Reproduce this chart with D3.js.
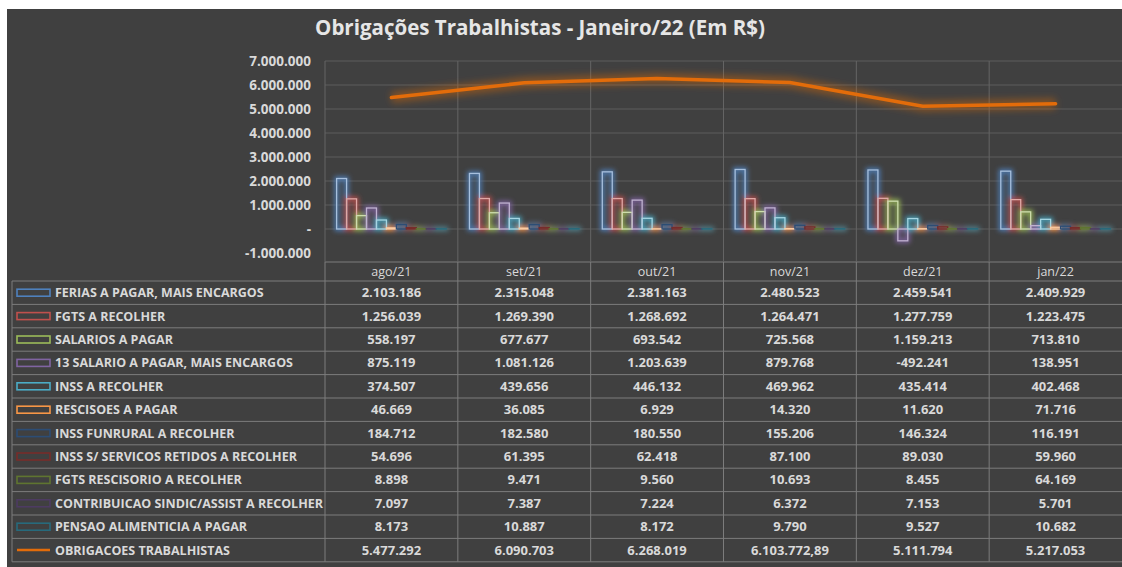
<!DOCTYPE html>
<html lang="pt">
<head>
<meta charset="UTF-8">
<title>Obrigações Trabalhistas - Janeiro/22</title>
<style>
  html, body { margin: 0; padding: 0; background: #ffffff; }
  svg { display: block; }
</style>
</head>
<body>
<svg id="chart"></svg>
<script src="https://d3js.org/d3.v7.min.js"></script>
<script>
// ---- data ----
const months = ['ago/21', 'set/21', 'out/21', 'nov/21', 'dez/21', 'jan/22'];

const barSeries = [
  'FERIAS A PAGAR, MAIS ENCARGOS',
  'FGTS A RECOLHER',
  'SALARIOS A PAGAR',
  '13 SALARIO A PAGAR, MAIS ENCARGOS',
  'INSS A RECOLHER',
  'RESCISOES A PAGAR',
  'INSS FUNRURAL A RECOLHER',
  'INSS S/ SERVICOS RETIDOS A RECOLHER',
  'FGTS RESCISORIO A RECOLHER',
  'CONTRIBUICAO SINDIC/ASSIST A RECOLHER',
  'PENSAO ALIMENTICIA A PAGAR'
];
const lineSeries = 'OBRIGACOES TRABALHISTAS';

const feriasAPagar    = [2103186, 2315048, 2381163, 2480523, 2459541, 2409929];
const fgtsARecolher   = [1256039, 1269390, 1268692, 1264471, 1277759, 1223475];
const salariosAPagar  = [558197, 677677, 693542, 725568, 1159213, 713810];
const decimoTerceiro  = [875119, 1081126, 1203639, 879768, -492241, 138951];
const inssARecolher   = [374507, 439656, 446132, 469962, 435414, 402468];
const rescisoes       = [46669, 36085, 6929, 14320, 11620, 71716];
const inssFunrural    = [184712, 182580, 180550, 155206, 146324, 116191];
const inssServicos    = [54696, 61395, 62418, 87100, 89030, 59960];
const fgtsRescisorio  = [8898, 9471, 9560, 10693, 8455, 64169];
const contribuicao    = [7097, 7387, 7224, 6372, 7153, 5701];
const pensao          = [8173, 10887, 8172, 9790, 9527, 10682];
const obrigacoes      = [5477292, 6090703, 6268019, 6103772.89, 5111794, 5217053];

const barValues = [feriasAPagar, fgtsARecolher, salariosAPagar, decimoTerceiro, inssARecolher,
  rescisoes, inssFunrural, inssServicos, fgtsRescisorio, contribuicao, pensao];

const yTicks = [-1000000, 0, 1000000, 2000000, 3000000, 4000000, 5000000, 6000000, 7000000];

const barColors = ['#4F81BD', '#C0504D', '#9BBB59', '#8064A2', '#4BACC6', '#F79646',
  '#2C4D75', '#772C2A', '#5F7530', '#4D3B62', '#276A7C'];
const lineColor = '#E36C0A';

// ---- layout ----
const width = 1122, height = 567;
const plot = { left: 325, right: 1122, top: 61, bottom: 253 };
const table = { left: 12, headTop: 262, headBottom: 281, rowH: 23.4 };
const bg = '#404040';
const textColor = '#d9d9d9';
const font = "'Open Sans', 'Noto Sans', sans-serif";

const br = d3.formatLocale({ decimal: ',', thousands: '.', grouping: [3], currency: ['R$', ''], minus: '-' });
const fmtInt = br.format(',.0f');
const fmtDec = br.format(',.2f');
const fmtVal = v => Number.isInteger(v) ? fmtInt(v) : fmtDec(v);
const fmtTick = v => v === 0 ? '-' : fmtInt(v);

const svg = d3.select('#chart').attr('width', width).attr('height', height);

// glow filters
const defs = svg.append('defs');
const glow = defs.append('filter').attr('id', 'glow')
  .attr('x', '-50%').attr('y', '-50%').attr('width', '200%').attr('height', '200%');
glow.append('feGaussianBlur').attr('stdDeviation', 2.6);
const glowLine = defs.append('filter').attr('id', 'glowLine')
  .attr('x', '-10%').attr('y', '-50%').attr('width', '120%').attr('height', '200%');
glowLine.append('feGaussianBlur').attr('stdDeviation', 3.5);

svg.append('rect').attr('x', 7).attr('y', 9).attr('width', width - 7).attr('height', height - 9).attr('fill', bg);

// title
svg.append('text')
  .attr('x', 540).attr('y', 35)
  .attr('text-anchor', 'middle')
  .attr('font-family', font).attr('font-weight', 700).attr('font-size', 20.5)
  .attr('fill', '#e6e6e6')
  .text('Obrigações Trabalhistas - Janeiro/22 (Em R$)');

// scales
const x0 = d3.scaleBand().domain(months).range([plot.left, plot.right])
  .paddingInner(0.175).paddingOuter(0.0875);
const x1 = d3.scaleBand().domain(d3.range(barSeries.length)).range([0, x0.bandwidth()]);
const y = d3.scaleLinear().domain([-1000000, 7000000]).range([plot.bottom, plot.top]);
const step = x0.step();
const colLeft = m => x0(m) - x0.paddingOuter() * step;

// horizontal gridlines
svg.append('g')
  .selectAll('line').data(yTicks.filter(t => t >= 0)).join('line')
  .attr('x1', plot.left).attr('x2', plot.right)
  .attr('y1', d => y(d)).attr('y2', d => y(d))
  .attr('stroke', '#5c5c5c').attr('stroke-width', 1);

// y axis labels
const yAxis = d3.axisLeft(y).tickValues(yTicks).tickFormat(fmtTick).tickSize(0).tickPadding(0);
const yg = svg.append('g').attr('transform', `translate(${plot.left - 14},0)`).call(yAxis);
yg.select('.domain').remove();
yg.selectAll('text')
  .attr('font-family', font).attr('font-weight', 700).attr('font-size', 13.5)
  .attr('fill', textColor);

// table lines
const rowsTop = table.headBottom;
const nRows = barSeries.length + 1;
const tableBottom = rowsTop + nRows * table.rowH;
const lines = svg.append('g').attr('stroke', '#7c7c7c').attr('stroke-width', 1);
lines.append('line').attr('x1', plot.left).attr('x2', plot.right)
  .attr('y1', table.headTop).attr('y2', table.headTop);
d3.range(nRows + 1).forEach(i => {
  const yy = rowsTop + i * table.rowH;
  lines.append('line').attr('x1', table.left).attr('x2', plot.right).attr('y1', yy).attr('y2', yy);
});
lines.append('line').attr('x1', table.left).attr('x2', table.left).attr('y1', rowsTop).attr('y2', tableBottom);
// category separators through plot and table
svg.append('g').selectAll('line').data(months).join('line')
  .attr('x1', d => colLeft(d)).attr('x2', d => colLeft(d))
  .attr('y1', plot.top).attr('y2', table.headTop)
  .attr('stroke', '#646464');
lines.selectAll('.vsep').data(months).join('line').attr('class', 'vsep')
  .attr('x1', d => colLeft(d)).attr('x2', d => colLeft(d))
  .attr('y1', table.headTop).attr('y2', tableBottom);

// bars
const light = (c, t) => d3.interpolateRgb(c, '#ffffff')(t);
const barG = svg.append('g');
const barData = [];
barValues.forEach((vals, s) => vals.forEach((v, i) => barData.push({ s, m: months[i], v })));
const rectAttrs = sel => sel
  .attr('x', d => x0(d.m) + x1(d.s))
  .attr('width', x1.bandwidth())
  .attr('y', d => y(Math.max(0, d.v)))
  .attr('height', d => Math.abs(y(d.v) - y(0)));
barG.append('g').attr('filter', 'url(#glow)')
  .selectAll('rect').data(barData).join('rect').call(rectAttrs)
  .attr('fill', 'none').attr('stroke', d => d.s < 6 ? barColors[d.s] : light(barColors[d.s], 0.2))
  .attr('stroke-width', 4);
barG.append('g')
  .selectAll('rect').data(barData).join('rect').call(rectAttrs)
  .attr('fill', d => barColors[d.s]).attr('fill-opacity', 0.06)
  .attr('stroke', d => d.s < 6 ? light(barColors[d.s], 0.5) : barColors[d.s]).attr('stroke-width', 1.3);

// total line
const lineGen = d3.line().x((d, i) => x0(months[i]) + x0.bandwidth() / 2).y(d => y(d));
svg.append('path').datum(obrigacoes).attr('d', lineGen)
  .attr('fill', 'none').attr('stroke', lineColor).attr('stroke-width', 11)
  .attr('stroke-opacity', 0.4).attr('filter', 'url(#glowLine)');
svg.append('path').datum(obrigacoes).attr('d', lineGen)
  .attr('fill', 'none').attr('stroke', lineColor).attr('stroke-width', 3.5)
  .attr('stroke-linecap', 'round');

// table header
svg.append('g').selectAll('text').data(months).join('text')
  .attr('x', d => x0(d) + x0.bandwidth() / 2)
  .attr('y', (table.headTop + table.headBottom) / 2 + 4.5)
  .attr('text-anchor', 'middle')
  .attr('font-family', font).attr('font-size', 12.5).attr('font-weight', 500)
  .attr('fill', textColor).text(d => d);

// table rows
const rows = barSeries.map((name, s) => ({ name, vals: barValues[s], color: barColors[s], type: 'bar' }))
  .concat([{ name: lineSeries, vals: obrigacoes, color: lineColor, type: 'line' }]);
const rowG = svg.append('g').selectAll('g').data(rows).join('g')
  .attr('transform', (d, i) => `translate(0,${rowsTop + i * table.rowH + table.rowH / 2})`);
rowG.filter(d => d.type === 'bar').append('rect')
  .attr('x', 17).attr('y', -3.5).attr('width', 33).attr('height', 7)
  .attr('fill', 'none').attr('stroke', d => d.color).attr('stroke-width', 1.6);
rowG.filter(d => d.type === 'line').append('line')
  .attr('x1', 17).attr('x2', 50).attr('y1', 0).attr('y2', 0)
  .attr('stroke', lineColor).attr('stroke-width', 2.5);
rowG.append('text')
  .attr('x', 55).attr('y', 4.5)
  .attr('font-family', font).attr('font-size', 12.5).attr('font-weight', 700)
  .attr('fill', textColor).text(d => d.name);
rowG.selectAll('.val').data(d => d.vals).join('text').attr('class', 'val')
  .attr('x', (v, i) => x0(months[i]) + x0.bandwidth() / 2)
  .attr('y', 4.5)
  .attr('text-anchor', 'middle')
  .attr('font-family', font).attr('font-size', 13).attr('font-weight', 700)
  .attr('fill', textColor).text(v => fmtVal(v));
</script>
</body>
</html>
